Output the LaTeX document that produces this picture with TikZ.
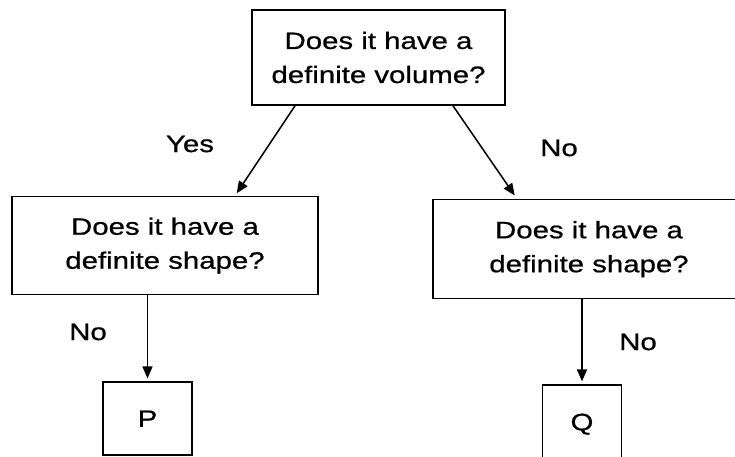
\documentclass[tikz,border=0pt]{standalone}
\usepackage{fontspec}
\setmainfont[FakeStretch=1.24,FakeBold=0.8]{Liberation Sans}
\usepackage{tikz}
\usetikzlibrary{arrows.meta,positioning}

\begin{document}
\begin{tikzpicture}[
    x=1pt, y=-1pt,
    box/.style={rectangle, draw, line width=1.6pt, inner sep=0pt, align=center,
        font=\fontsize{23.7}{34}\selectfont},
    edge/.style={-{Triangle[length=12pt,width=10pt]}, line width=1.5pt, shorten >=3pt},
    lbl/.style={font=\fontsize{23.7}{28}\selectfont}
]
    \useasboundingbox (0,0) rectangle (735,456);
    \clip (0,0) rectangle (735,456);

    \node[box, minimum width=253pt, minimum height=95pt] (vol) at (378.5,57.5) {Does it have a\\definite volume?};
    \node[box, minimum width=306pt, minimum height=98pt, below=90pt of vol, xshift=-213.5pt] (s1) {Does it have a\\definite shape?};
    \node[box, minimum width=312pt, minimum height=99pt, below=93pt of vol, xshift=210.5pt] (s2) {Does it have a\\definite shape?};
    \node[box, minimum width=89pt, minimum height=73pt, below=86pt of s1, xshift=-17.5pt] (p) {P};
    \node[box, minimum width=79pt, minimum height=78pt, below=85pt of s2, xshift=-7pt] (q) {Q};

    \draw[edge] ([xshift=-83.5pt]vol.south) -- ([xshift=70pt]s1.north);
    \draw[edge, shorten >=4pt] ([xshift=74.5pt]vol.south) -- ([xshift=-72pt]s2.north);
    \draw[edge] (p.north |- s1.south) -- (p.north);
    \draw[edge] (q.north |- s2.south) -- (q.north);

    % branch labels
    \node[lbl] (yes) at (190,144) {Yes};
    \node[lbl] (no1) at (559,148) {No};
    \node[lbl] (no2) at (88,332) {No};
    \node[lbl] (no3) at (638,342) {No};
\end{tikzpicture}
\end{document}
